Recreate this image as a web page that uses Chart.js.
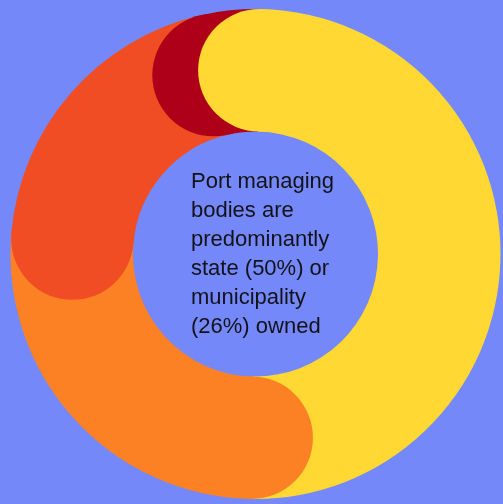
<!DOCTYPE html>
<html>
<head>
<meta charset="utf-8">
<script src="https://cdn.jsdelivr.net/npm/chart.js@4"></script>
<style>
  html, body { margin: 0; padding: 0; background: #7588fa; }
  #wrap { position: relative; width: 503px; height: 504px; overflow: hidden; }
  #owners { display: block; }
  #note {
    position: absolute; left: 191px; top: 166px;
    font-family: "Liberation Sans", Arial, sans-serif;
    font-size: 22px; line-height: 29px; color: #121218;
    white-space: nowrap;
  }
</style>
</head>
<body>
<div id="wrap">
  <canvas id="owners" width="503" height="504"></canvas>
  <div id="note">Port managing<br>bodies are<br>predominantly<br>state (50%) or<br>municipality<br>(26%) owned</div>
</div>
<script>
var owner_labels = ['State', 'Municipality', 'Other public', 'Private'];
var owner_share = [50, 26, 20, 4];
var owner_colours = ['#ffd833', '#fc8125', '#f04d24', '#ae0018'];

// round caps: a disc at the start of every slice, laid over the slice before it
var roundCaps = {
	id: 'roundCaps',
	afterDatasetDraw: function(chart, args)
	{
		var arcs = chart.getDatasetMeta(args.index).data;
		var ctx = chart.ctx;
		// first slice last, so its cap sits on top of the final one
		var order = [];
		for (var i = 1; i < arcs.length; i++) order.push(i);
		order.push(0);

		ctx.save();
		order.forEach(function (i)
		{
			var a = arcs[i];
			var half = (a.outerRadius - a.innerRadius) / 2;
			var mid = a.innerRadius + half;
			ctx.beginPath();
			ctx.arc(a.x + Math.cos(a.startAngle) * mid, a.y + Math.sin(a.startAngle) * mid, half, 0, Math.PI * 2);
			ctx.fillStyle = owner_colours[i];
			ctx.fill();
		});
		ctx.restore();
	}
};

var ownersChart = new Chart(document.getElementById('owners').getContext('2d'), {
	type: 'doughnut',
	data: {
		labels: owner_labels,
		datasets: [{
			data: owner_share,
			backgroundColor: owner_colours,
			borderWidth: 0
		}]
	},
	options: {
		responsive: false,
		animation: false,
		cutout: '50%',
		rotation: 1.2,
		layout: { padding: { left: 10.5, right: 2.5, top: 9, bottom: 5 } },
		plugins: {
			legend: { display: false },
			tooltip: { enabled: false }
		}
	},
	plugins: [roundCaps]
});
</script>
</body>
</html>
